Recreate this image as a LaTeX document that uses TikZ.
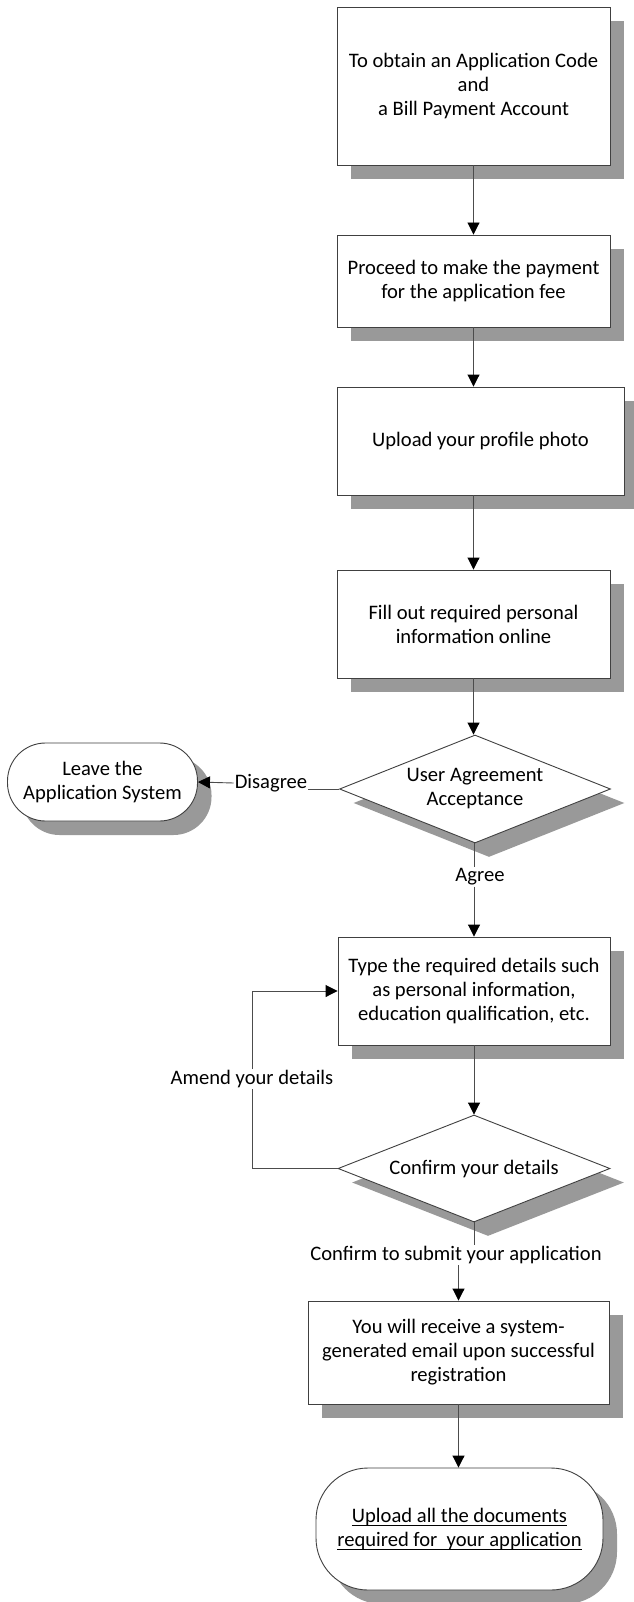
\documentclass[tikz,border=0pt]{standalone}
\usepackage{fontspec}
\setmainfont{Carlito}
\newcommand{\myul}[1]{\setbox0\hbox{#1}\rlap{\rule[-3pt]{\wd0}{0.9pt}}\box0}
\usetikzlibrary{shapes.geometric,shadows,arrows.meta}
\tikzset{
  txt/.style={font=\fontsize{20.6}{24}\selectfont},
  shd/.style={drop shadow={shadow xshift=14pt,shadow yshift=-14pt,fill=black!40,opacity=1}},
  procbox/.style={draw=black!75,line width=0.9pt,fill=white,shd,inner sep=0pt,align=center,txt},
  decbox/.style={diamond,aspect=2.5,draw=black!75,line width=0.9pt,fill=white,shd,inner sep=0pt,align=center,txt},
  termbox/.style={draw=black!75,line width=0.9pt,fill=white,shd,inner sep=0pt,align=center,txt},
  lbl/.style={inner sep=1pt,align=center,txt},
  conn/.style={draw=black!70,line width=0.9pt},
  arr/.style={conn,-{Triangle[width=12pt,length=12pt,color=black]}}
}
\begin{document}
\begin{tikzpicture}[x=1pt,y=-1pt]
\useasboundingbox[fill=white] (0,0) rectangle (633,1602);
\node[procbox,minimum width=273pt,minimum height=158pt] (b1) at (473.5,86)
  {To obtain an Application Code\\and\\ a Bill Payment Account};
\node[procbox,minimum width=273pt,minimum height=92pt] (b2) at (473.5,281)
  {Proceed to make the payment\\for the application fee};
\node[procbox,minimum width=287pt,minimum height=108pt] (b3) at (480.5,441)
  {Upload your profile photo};
\node[procbox,minimum width=273pt,minimum height=108pt] (b4) at (473.5,624)
  {Fill out required personal\\information online};
\node[decbox,minimum width=271pt,minimum height=108pt] (d1) at (475,789)
  {User Agreement\\Acceptance};
\node[termbox,rounded corners=38pt,minimum width=190pt,minimum height=78pt] (leave) at (102.5,782)
  {Leave the\\Application System};
\node[procbox,minimum width=272pt,minimum height=108pt] (b5) at (474,991)
  {Type the required details such\\as personal information,\\education qualification, etc.};
\node[decbox,minimum width=272pt,minimum height=107pt] (d2) at (474,1168.5)
  {Confirm your details};
\node[procbox,minimum width=301pt,minimum height=103pt] (b6) at (458.5,1352.5)
  {You will receive a system-\\generated email upon successful\\registration};
\node[termbox,rounded corners=52pt,minimum width=287pt,minimum height=122pt] (t2) at (459.5,1529)
  {\myul{Upload all the documents}\\\myul{required for\ \ your application}};
% labels
\node[lbl] (dis) at (271,783) {Disagree};
\node[lbl] (agr) at (480,877) {Agree};
\node[lbl,fill=white] (amd) at (252,1079) {Amend your details};
\node[lbl] (cfm) at (456,1255) {Confirm to submit your application};
\coordinate (lp1) at (252,1168.5);
\coordinate (lp2) at (252,991);
% connectors
\draw[arr] (b1.south) -- (b1.south |- b2.north);
\draw[arr] (b2.south) -- (b2.south |- b3.north);
\draw[arr] (b3.south -| b4.north) -- (b4.north);
\draw[arr] (b4.south) -- (b4.south |- d1.north);
\draw[conn] (d1.west) -- (d1.west -| dis.east);
\draw[arr] (dis.west) -- (leave.east);
\draw[conn] (d1.south -| b5.north) -- (agr.north -| b5.north);
\draw[arr] (agr.south -| b5.north) -- (b5.north);
\draw[arr] (b5.south) -- (d2.north);
\draw[conn] (d2.west) -- (lp1) -- (amd.south);
\draw[arr] (amd.north) -- (lp2) -- (b5.west);
\draw[conn] (d2.south) -- (d2.south |- cfm.north);
\draw[arr] (cfm.south -| b6.north) -- (b6.north);
\draw[arr] (b6.south) -- (b6.south |- t2.north);
\end{tikzpicture}
\end{document}
